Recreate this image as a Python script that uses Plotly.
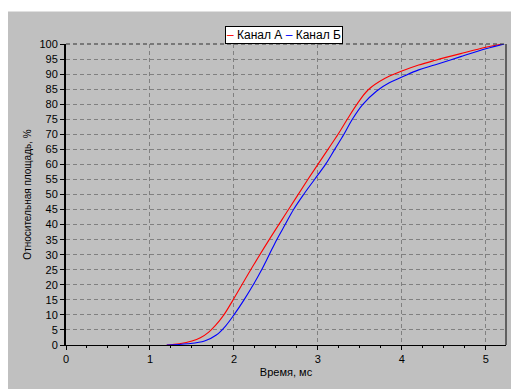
import plotly.graph_objects as go

# Канал А (red)
x_a = [1.2, 1.35, 1.5, 1.6, 1.7, 1.78, 1.88, 1.99, 2.2, 2.42, 2.65, 2.88, 3.0, 3.12,
       3.24, 3.35, 3.47, 3.6, 3.8, 4.0, 4.2, 4.4, 4.7, 5.0, 5.2]
y_a = [0, 0.4, 1.3, 2.4, 4.3, 6.5, 10, 15, 25, 35, 45, 55, 60, 65,
       70, 75, 80.2, 84.8, 88.6, 91.0, 93.0, 94.6, 96.8, 98.9, 100]

# Канал Б (blue)
x_b = [1.2, 1.45, 1.65, 1.79, 1.9, 2.0, 2.12, 2.23, 2.33, 2.42, 2.51, 2.61, 2.71, 2.83,
       2.96, 3.09, 3.2, 3.31, 3.41, 3.53, 3.7, 3.85, 4.0, 4.2, 4.4, 4.7, 5.0, 5.22]
y_b = [0, 0.4, 1.3, 3.3, 6.3, 10, 15, 20, 25, 30, 35, 40, 45, 50,
       55, 60, 65, 70, 75, 79.8, 84.4, 87.1, 89.0, 91.4, 93.1, 95.8, 98.4, 100]

x_ticks = [0, 1, 2, 3, 4, 5]
y_ticks = list(range(0, 101, 5))

# page has an 8px body margin; plot area on the page: x 66..506, y 44..349
OFF = 8
W, H = 519 - OFF, 389 - OFF
PL, PR, PT, PB = 66, 506, 44, 349
L, T = PL - OFF, PT - OFF
R = W - (PR - OFF)
B = H - (PB - OFF)

def px2x(px):
    return (px - PL) / (PR - PL)

def py2y(py):
    return (PB - py) / (PB - PT)

fig = go.Figure()
fig.add_trace(go.Scatter(x=x_a, y=y_a, mode="lines", name="Канал А",
                         line=dict(color="#ff0000", width=1.1, shape="spline", smoothing=1.0),
                         showlegend=False))
fig.add_trace(go.Scatter(x=x_b, y=y_b, mode="lines", name="Канал Б",
                         line=dict(color="#0000ff", width=1.1, shape="spline", smoothing=1.0),
                         showlegend=False))

font = dict(family="Liberation Sans, Arial, sans-serif", size=11, color="#000000")

fig.update_layout(
    width=W, height=H,
    margin=dict(l=L, r=R, t=T, b=B),
    paper_bgcolor="#c0c0c0",
    plot_bgcolor="#c0c0c0",
    font=font,
    xaxis=dict(range=[0, 5.24], tickvals=x_ticks, ticks="outside", ticklen=4,
               tickcolor="#000000", showline=True, linecolor="#000000", linewidth=1,
               showgrid=True, gridcolor="#808080", griddash="4px,3px", gridwidth=1,
               zeroline=False, tickfont=font,
               minor=dict(dtick=0.25, ticks="outside", ticklen=2, tickcolor="#000000", showgrid=False),
               title=dict(text="Время, мс", font=font, standoff=4)),
    yaxis=dict(range=[0, 100], tickvals=y_ticks, ticks="outside", ticklen=4,
               tickcolor="#000000", showline=True, linecolor="#000000", linewidth=2,
               showgrid=True, gridcolor="#808080", griddash="4px,3px", gridwidth=1,
               zeroline=False, tickfont=font,
               title=dict(text="Относительная площадь, %",
                          font=dict(family=font["family"], size=10, color="#000000"), standoff=6)),
    shapes=[
        # white band on top (outside of the grey window area)
        dict(type="rect", xref="paper", yref="paper", x0=px2x(0), x1=px2x(530), y0=py2y(11), y1=py2y(0),
             fillcolor="white", line=dict(width=0), layer="below"),
        # right border
        dict(type="line", xref="paper", yref="paper", x0=1, x1=1, y0=0, y1=1,
             line=dict(color="#000000", width=1)),
        # top border (dashed dark)
        dict(type="line", xref="paper", yref="paper", x0=0, x1=1, y0=1, y1=1,
             line=dict(color="#303030", width=1, dash="4px,3px")),
    ],
    annotations=[
        dict(xref="paper", yref="paper", x=px2x(283.5), y=py2y(35), xanchor="center", yanchor="middle",
             showarrow=False, bgcolor="white", bordercolor="#000000", borderwidth=1, borderpad=1,
             text="<span style='color:#ff0000'>–</span> Канал А <span style='color:#0000ff'>–</span> Канал Б",
             font=dict(family=font["family"], size=12, color="#000000")),
    ],
)

fig.write_html("out.html")
